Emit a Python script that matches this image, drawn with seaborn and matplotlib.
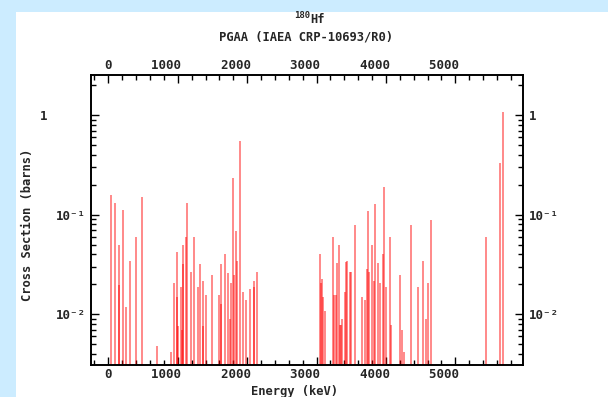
import numpy as np
import pandas as pd
import matplotlib
matplotlib.use("Agg")
import matplotlib.pyplot as plt
from matplotlib.patches import Rectangle
from matplotlib.ticker import MultipleLocator, LogLocator, NullFormatter, FixedLocator, FixedFormatter
import seaborn as sns

# ---- data ----
energy_kev = [44, 101, 150, 157, 207, 250, 317, 394, 481, 697, 899, 942, 985, 995,
              1009, 1043, 1057, 1072, 1081, 1115, 1129, 1187, 1230, 1288, 1316, 1360,
              1369, 1403, 1489, 1590, 1619, 1629, 1677, 1720, 1749, 1763, 1792, 1806,
              1835, 1850, 1893, 1936, 1979, 2037, 2094, 2104, 2138,
              3045, 3060, 3074, 3089, 3117, 3233, 3247, 3276, 3290, 3319, 3334, 3348,
              3362, 3410, 3425, 3439, 3478, 3492, 3550, 3651, 3694, 3723, 3737, 3751,
              3795, 3824, 3838, 3881, 3910, 3953, 3968, 3996, 4054, 4068, 4198, 4227,
              4256, 4357, 4457, 4530, 4573, 4602, 4645, 5437, 5644, 5682]
cross_section = [0.160, 0.130, 0.0197, 0.050, 0.111, 0.0118, 0.0344, 0.060, 0.150, 0.00485,
                 0.0042, 0.0206, 0.0149, 0.0425, 0.0077, 0.0188, 0.0069, 0.050, 0.032, 0.060,
                 0.130, 0.0267, 0.060, 0.0188, 0.032, 0.0216, 0.0077, 0.0156, 0.0248, 0.0156,
                 0.032, 0.0126, 0.040, 0.026, 0.0089, 0.0206, 0.233, 0.0248, 0.069, 0.0344,
                 0.553, 0.0167, 0.0139, 0.0179, 0.0216, 0.0188, 0.0267,
                 0.0404, 0.0206, 0.0226, 0.0149, 0.0108, 0.060, 0.0156, 0.0156, 0.0328,
                 0.0497, 0.0078, 0.0078, 0.0090, 0.0168, 0.0336, 0.0344, 0.0266, 0.0266,
                 0.079, 0.0149, 0.0139, 0.0286, 0.109, 0.0266, 0.0497, 0.0216, 0.128,
                 0.0328, 0.0206, 0.0404, 0.190, 0.0188, 0.060, 0.0078, 0.0248, 0.0070,
                 0.0042, 0.079, 0.0188, 0.0344, 0.0090, 0.0206, 0.0887, 0.060, 0.332, 1.08]
x_major_ticks = [0, 1000, 2000, 3000, 4000, 5000]
y_major_ticks = [0.01, 0.1, 1]
y_tick_labels_left = ["10\u207b\u00b2", "10\u207b\u00b9", "1     "]
y_tick_labels_right = ["10\u207b\u00b2", "10\u207b\u00b9", "1"]
title_mass = "180"
title_element = "Hf"
title_line2 = "PGAA (IAEA CRP-10693/R0)"
x_label = "Energy (keV)"
y_label = "Cross Section (barns)"

df = pd.DataFrame({"E": energy_kev, "sigma": cross_section})

# ---- style ----
sns.set_theme(style="ticks")
FONT = "DejaVu Sans Mono"
plt.rcParams["font.family"] = [FONT, "DejaVu Sans"]
plt.rcParams["font.weight"] = "bold"

W, H = 608, 397
fig = plt.figure(figsize=(W / 100, H / 100), dpi=100)
fig.patch.set_facecolor("#CCECFF")
fig.add_artist(Rectangle((15.5 / W, 0), 1, (H - 12) / H, transform=fig.transFigure,
                         facecolor="white", edgecolor="none", zorder=0))

ax = fig.add_axes([91 / W, 32 / H, 432 / W, 290 / H])
ax.set_facecolor("white")

bar_kev = 28.0
min_gap = np.min(np.diff(np.unique(df["E"].values)))
sns.barplot(data=df, x="E", y="sigma", native_scale=True, errorbar=None,
            color="red", alpha=0.45, linewidth=0, saturation=1,
            width=bar_kev / min_gap, ax=ax)

ax.set_yscale("log")
ax.set_xlim(-250, 5975)
ax.set_ylim(0.0031, 2.54)

# labels sit with their last digit over the tick (as in the reference)
x_labels = [str(t) + " " * (len(str(t)) - 1) for t in x_major_ticks]
ax.xaxis.set_major_locator(FixedLocator(x_major_ticks))
ax.xaxis.set_minor_locator(MultipleLocator(200))
ax.set_xticklabels(x_labels)
ax.yaxis.set_major_locator(FixedLocator(y_major_ticks))
ax.yaxis.set_major_formatter(FixedFormatter(y_tick_labels_left))
ax.yaxis.set_minor_locator(LogLocator(base=10, subs=np.arange(2, 10)))
ax.yaxis.set_minor_formatter(NullFormatter())

ax.tick_params(which="both", direction="in", top=True, right=True, bottom=True, left=True,
               labeltop=True, labelbottom=True, labelleft=True, labelright=False,
               color="black", width=1)
ax.tick_params(which="major", length=6, labelsize=9)
ax.tick_params(axis="x", which="major", pad=2)
ax.tick_params(axis="y", which="major", pad=4)
ax.tick_params(which="minor", length=3.5)
for lab in ax.get_xticklabels() + ax.get_yticklabels():
    lab.set_fontweight("bold")

# right-hand labels via twin axis
axr = ax.twinx()
axr.set_yscale("log")
axr.set_ylim(ax.get_ylim())
axr.yaxis.set_major_locator(FixedLocator(y_major_ticks))
axr.yaxis.set_major_formatter(FixedFormatter(y_tick_labels_right))
axr.yaxis.set_minor_locator(LogLocator(base=10, subs=np.arange(2, 10)))
axr.yaxis.set_minor_formatter(NullFormatter())
axr.tick_params(which="both", direction="in", right=True, labelright=True, color="black", width=1)
axr.tick_params(which="major", length=6, pad=4, labelsize=9)
axr.tick_params(which="minor", length=3.5)
for lab in axr.get_yticklabels():
    lab.set_fontweight("bold")

for a in (ax, axr):
    for s in a.spines.values():
        s.set_visible(True)
        s.set_color("black")
        s.set_linewidth(1.2)

ax.set_xlabel(x_label, fontsize=8.7, fontweight="bold")
ax.set_ylabel(y_label, fontsize=8.7, fontweight="bold")
ax.xaxis.set_label_coords(0.472, -0.068)
ax.yaxis.set_label_coords(-0.132, 0.483)

# title: superscript mass number + element, then the data-set line
fig.text(310 / W, 1 - 16 / H, title_mass, ha="right", va="center", fontsize=6.5, fontweight="bold")
fig.text(310 / W, 1 - 19.5 / H, title_element, ha="left", va="center", fontsize=8.7, fontweight="bold")
fig.text(306 / W, 1 - 37.5 / H, title_line2, ha="center", va="center", fontsize=8.7, fontweight="bold")

fig.savefig("out.png", dpi=100, facecolor=fig.get_facecolor())
